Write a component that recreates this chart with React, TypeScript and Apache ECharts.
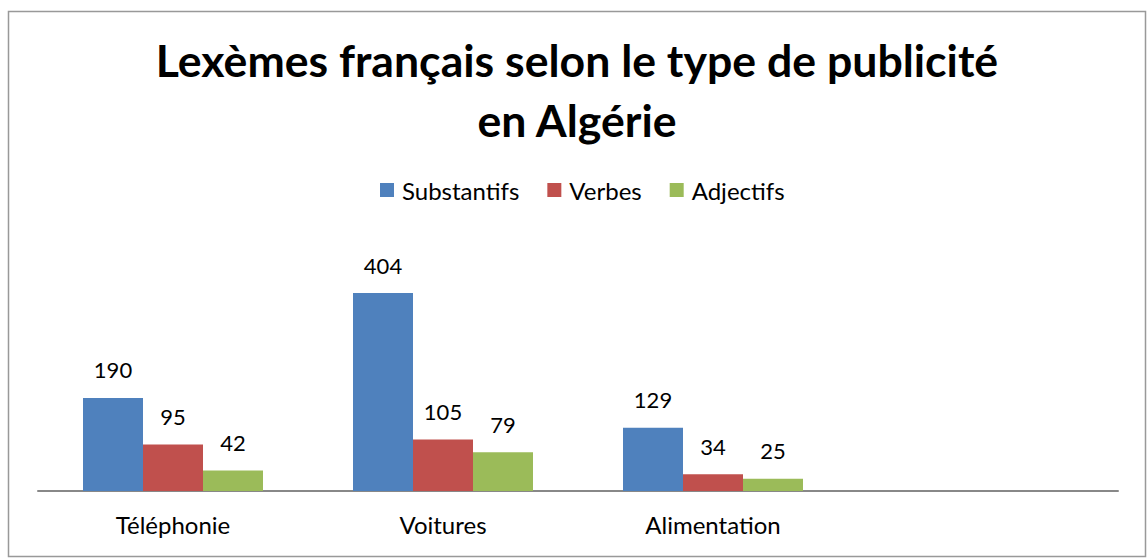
import React, { useEffect, useRef } from "react";
import * as echarts from "echarts";

const titleLines = ["Lexèmes français selon le type de publicité", "en Algérie"];
const categories = ["Téléphonie", "Voitures", "Alimentation", ""];
const seriesNames = ["Substantifs", "Verbes", "Adjectifs"];
const substantifs = [190, 404, 129];
const verbes = [95, 105, 34];
const adjectifs = [42, 79, 25];
const colors = ["#4F81BD", "#C0504D", "#9BBB59"];

const FONT = "Lato";

export default function App() {
  const ref = useRef<HTMLDivElement>(null);
  useEffect(() => {
    if (!ref.current) return;
    const chart = echarts.init(ref.current, undefined, { renderer: "svg" });
    const values = [substantifs, verbes, adjectifs];
    chart.setOption({
      animation: false,
      backgroundColor: "#fff",
      title: {
        text: titleLines.join("\n"),
        left: 572,
        top: 24,
        textAlign: "center",
        textStyle: {
          fontFamily: FONT,
          fontWeight: "bold",
          fontSize: 44.6,
          lineHeight: 60,
          color: "#000",
        },
      },
      legend: {
        top: 173,
        left: 375,
        itemWidth: 14,
        itemHeight: 14,
        itemGap: 28,
        icon: "rect",
        textStyle: { fontFamily: FONT, fontSize: 24, color: "#000", padding: [0, 0, 0, 3] },
        data: seriesNames,
      },
      grid: { left: 38, right: 29, top: 270.5, bottom: 67, containLabel: false },
      xAxis: {
        type: "category",
        data: categories,
        axisLine: { lineStyle: { color: "#888", width: 2 } },
        axisTick: { show: false },
        axisLabel: {
          fontFamily: FONT,
          fontSize: 24,
          color: "#000",
          margin: 21,
        },
      },
      yAxis: {
        type: "value",
        min: 0,
        max: 450,
        interval: 50,
        show: false,
        splitLine: { show: false },
      },
      graphic: [
        {
          type: "rect",
          shape: { x: 8.5, y: 11.5, width: 1137, height: 545 },
          style: { fill: "none", stroke: "#999", lineWidth: 1.5 },
          silent: true,
        },
      ],
      series: seriesNames.map((name, i) => ({
        name,
        type: "bar",
        data: values[i],
        barWidth: 60,
        barGap: "0%",
        itemStyle: { color: colors[i] },
        label: {
          show: true,
          position: "top",
          distance: 17,
          fontFamily: FONT,
          fontSize: 22,
          color: "#000",
        },
      })),
    });
    return () => chart.dispose();
  }, []);
  return (
    <div
      ref={ref}
      style={{ position: "absolute", left: 0, top: 0, width: 1147, height: 558 }}
    />
  );
}
